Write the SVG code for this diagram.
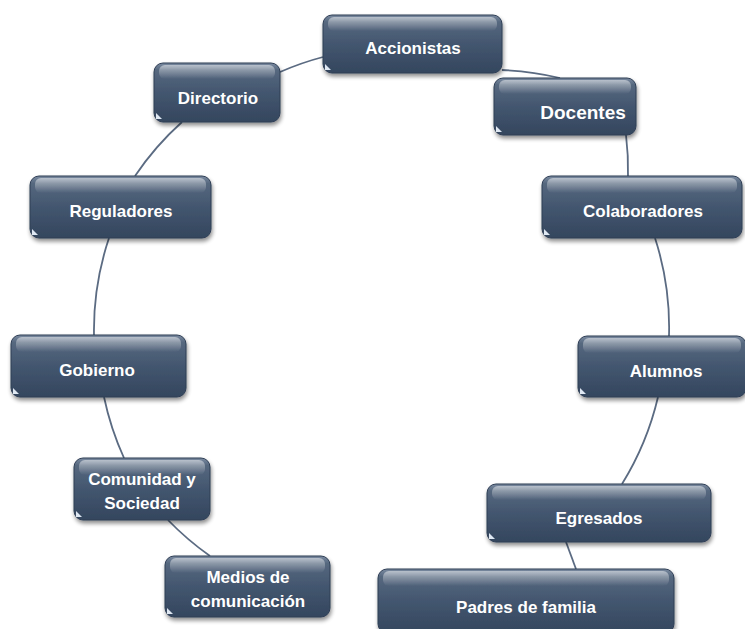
<svg xmlns="http://www.w3.org/2000/svg" width="745" height="629" viewBox="0 0 745 629">
<defs>
<linearGradient id="body" x1="0" y1="0" x2="0" y2="1">
<stop offset="0" stop-color="#7a8aa0"/>
<stop offset="0.12" stop-color="#56687f"/>
<stop offset="0.5" stop-color="#43566f"/>
<stop offset="1" stop-color="#34465e"/>
</linearGradient>
<linearGradient id="gloss" x1="0" y1="0" x2="0" y2="1">
<stop offset="0" stop-color="#ffffff" stop-opacity="0.5"/>
<stop offset="1" stop-color="#ffffff" stop-opacity="0"/>
</linearGradient>
<filter id="sh" x="-10%" y="-10%" width="125%" height="135%">
<feGaussianBlur in="SourceAlpha" stdDeviation="2"/>
<feOffset dx="1" dy="3" result="b"/>
<feComponentTransfer><feFuncA type="linear" slope="0.45"/></feComponentTransfer>
<feMerge><feMergeNode/><feMergeNode in="SourceGraphic"/></feMerge>
</filter>
</defs>
<style>
.box{fill:url(#body);stroke:#2e3e55;stroke-width:1;filter:url(#sh)}
.gl{fill:url(#gloss)}
.t{font-family:"Liberation Sans","DejaVu Sans",sans-serif;font-weight:bold;font-size:17px;fill:#ffffff;text-anchor:middle}
.c{fill:none;stroke:#5b6b82;stroke-width:1.8}
.tri{fill:#dfe8f3}
</style>
<g id="connectors">
<path class="c" d="M280,72 A290,290 0 0 1 323,57"/>
<path class="c" d="M502,70 A290,290 0 0 1 560,78"/>
<path class="c" d="M626,135 A290,290 0 0 1 628,176"/>
<path class="c" d="M655,238 A290,290 0 0 1 669,336"/>
<path class="c" d="M658,397 A290,290 0 0 1 622,484"/>
<path class="c" d="M566,542 L576,569"/>
<path class="c" d="M182,122 A290,290 0 0 0 135,176"/>
<path class="c" d="M109,238 A290,290 0 0 0 94,335"/>
<path class="c" d="M104,397 A290,290 0 0 0 124,458"/>
<path class="c" d="M168,520 A290,290 0 0 0 210,556"/>
</g>
<g id="accionistas">
<rect class="box" x="323" y="15" width="179" height="58" rx="9"/>
<rect class="gl" x="328" y="17" width="169" height="14" rx="6"/>
<path class="tri" d="M325,70 L325,64 L331,70 Z"/>
<text class="t" x="413" y="54">Accionistas</text>
</g>
<g id="docentes">
<rect class="box" x="494" y="78" width="142" height="57" rx="9"/>
<rect class="gl" x="499" y="80" width="132" height="14" rx="6"/>
<path class="tri" d="M496,132 L496,126 L502,132 Z"/>
<text class="t" x="583" y="119" style="font-size:19px">Docentes</text>
</g>
<g id="directorio">
<rect class="box" x="154" y="63" width="126" height="59" rx="9"/>
<rect class="gl" x="159" y="65" width="116" height="14" rx="6"/>
<path class="tri" d="M156,119 L156,113 L162,119 Z"/>
<text class="t" x="218" y="104">Directorio</text>
</g>
<g id="colaboradores">
<rect class="box" x="542" y="176" width="200" height="62" rx="9"/>
<rect class="gl" x="547" y="178" width="190" height="15" rx="6"/>
<path class="tri" d="M544,235 L544,229 L550,235 Z"/>
<text class="t" x="643" y="217">Colaboradores</text>
</g>
<g id="reguladores">
<rect class="box" x="30" y="176" width="181" height="62" rx="9"/>
<rect class="gl" x="35" y="178" width="171" height="15" rx="6"/>
<path class="tri" d="M32,235 L32,229 L38,235 Z"/>
<text class="t" x="121" y="217">Reguladores</text>
</g>
<g id="gobierno">
<rect class="box" x="11" y="335" width="175" height="62" rx="9"/>
<rect class="gl" x="16" y="337" width="165" height="15" rx="6"/>
<path class="tri" d="M13,394 L13,388 L19,394 Z"/>
<text class="t" x="97" y="376">Gobierno</text>
</g>
<g id="alumnos">
<rect class="box" x="578" y="336" width="168" height="61" rx="9"/>
<rect class="gl" x="583" y="338" width="158" height="15" rx="6"/>
<path class="tri" d="M580,394 L580,388 L586,394 Z"/>
<text class="t" x="666" y="377">Alumnos</text>
</g>
<g id="comunidad">
<rect class="box" x="74" y="458" width="136" height="62" rx="9"/>
<rect class="gl" x="79" y="460" width="126" height="15" rx="6"/>
<path class="tri" d="M76,517 L76,511 L82,517 Z"/>
<text class="t" x="142" y="485">Comunidad y</text>
<text class="t" x="142" y="509">Sociedad</text>
</g>
<g id="egresados">
<rect class="box" x="487" y="484" width="224" height="58" rx="9"/>
<rect class="gl" x="492" y="486" width="214" height="14" rx="6"/>
<path class="tri" d="M489,539 L489,533 L495,539 Z"/>
<text class="t" x="599" y="524">Egresados</text>
</g>
<g id="medios">
<rect class="box" x="165" y="556" width="165" height="61" rx="9"/>
<rect class="gl" x="170" y="558" width="155" height="15" rx="6"/>
<path class="tri" d="M167,614 L167,608 L173,614 Z"/>
<text class="t" x="248" y="583">Medios de</text>
<text class="t" x="248" y="607">comunicación</text>
</g>
<g id="padres">
<rect class="box" x="378" y="569" width="296" height="64" rx="9"/>
<rect class="gl" x="383" y="571" width="286" height="15" rx="6"/>
<text class="t" x="526" y="613">Padres de familia</text>
</g>
</svg>
